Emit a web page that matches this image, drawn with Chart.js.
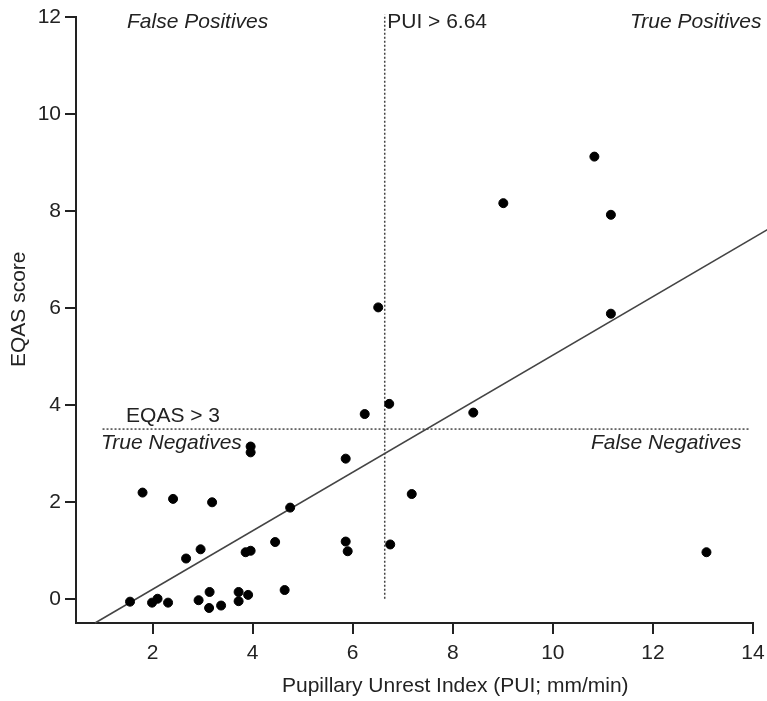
<!DOCTYPE html>
<html>
<head>
<meta charset="utf-8">
<script src="https://cdn.jsdelivr.net/npm/chart.js@4/dist/chart.umd.min.js"></script>
<style>
  html, body { margin: 0; padding: 0; background: #fff; }
  #wrap { width: 767px; height: 701px; }
</style>
</head>
<body>
<div id="wrap"><canvas id="chart"></canvas></div>
<script>
// data
var pui = [1.55, 1.8, 1.99, 2.1, 2.31, 2.41, 2.67, 2.92, 2.96, 3.14, 3.13, 3.19, 3.37,
           3.72, 3.72, 3.86, 3.96, 3.91, 3.96, 3.96, 4.45, 4.64, 4.75, 5.86, 5.86, 5.9,
           6.24, 6.51, 6.73, 6.75, 7.18, 8.41, 9.01, 10.83, 11.16, 11.16, 13.07];
var eqas = [-0.06, 2.19, -0.08, 0.0, -0.08, 2.06, 0.83, -0.03, 1.02, 0.14, -0.19, 1.99, -0.14,
            0.14, -0.05, 0.96, 0.99, 0.08, 3.14, 3.02, 1.17, 0.18, 1.88, 2.89, 1.18, 0.98,
            3.81, 6.01, 4.02, 1.12, 2.16, 3.84, 8.16, 9.12, 7.92, 5.88, 0.96];

var fitX = [0.85, 14.3];
var fitY = [-0.5, 7.62];
var puiCut = 6.64;
var eqasCut = 3.5;

var xTicks = [2, 4, 6, 8, 10, 12, 14];
var yTicks = [0, 2, 4, 6, 8, 10, 12];

var xTitle = 'Pupillary Unrest Index (PUI; mm/min)';
var yTitle = 'EQAS score';

var labelText = ['False Positives', 'PUI > 6.64', 'True Positives', 'EQAS > 3', 'True Negatives', 'False Negatives'];
var labelX = [1.49, 6.69, 14.17, 1.47, 0.97, 13.77];
var labelY = [11.77, 11.77, 11.77, 3.64, 3.09, 3.09];
var labelAlign = ['left', 'left', 'right', 'left', 'left', 'right'];
var labelItalic = [true, false, true, false, true, true];

var ink = '#222';
var font = '"Liberation Sans", Arial, sans-serif';

var points = pui.map(function (x, i) { return { x: x, y: eqas[i] }; });

var textLabels = {
    id: 'textLabels',
    afterDatasetsDraw: function (chart) {
        var ctx = chart.ctx;
        var xs = chart.scales.x, ys = chart.scales.y;
        var area = chart.chartArea;
        ctx.save();
        ctx.fillStyle = ink;
        ctx.textBaseline = 'alphabetic';
        labelText.forEach(function (t, i) {
            ctx.font = (labelItalic[i] ? 'italic ' : '') + '21px ' + font;
            ctx.textAlign = labelAlign[i];
            ctx.fillText(t, xs.getPixelForValue(labelX[i]), ys.getPixelForValue(labelY[i]));
        });
        // axis titles, placed like the original (a bit off-centre)
        ctx.font = '21px ' + font;
        ctx.textAlign = 'left';
        ctx.fillText(xTitle, area.left + 206, chart.height - 9);
        ctx.translate(25, area.bottom - 256);
        ctx.rotate(-Math.PI / 2);
        ctx.fillText(yTitle, 0, 0);
        ctx.restore();
    }
};

new Chart(document.getElementById('chart'), {
    type: 'scatter',
    data: {
        datasets: [
            {
                data: points,
                backgroundColor: '#000',
                borderColor: '#000',
                pointRadius: 4.5,
                pointHoverRadius: 4.5
            },
            {
                type: 'line',
                data: [{ x: fitX[0], y: fitY[0] }, { x: fitX[1], y: fitY[1] }],
                borderColor: '#444',
                borderWidth: 1.5,
                pointRadius: 0,
                clip: false
            },
            {
                type: 'line',
                data: [{ x: puiCut, y: 0 }, { x: puiCut, y: 12.05 }],
                borderColor: '#444',
                borderWidth: 1.5,
                borderDash: [2, 2],
                pointRadius: 0,
                clip: false
            },
            {
                type: 'line',
                data: [{ x: 1, y: eqasCut }, { x: 13.95, y: eqasCut }],
                borderColor: '#444',
                borderWidth: 1.5,
                borderDash: [2, 2],
                pointRadius: 0,
                clip: false
            }
        ]
    },
    options: {
        responsive: true,
        maintainAspectRatio: false,
        animation: false,
        layout: { padding: { top: 17, right: 0, left: 0, bottom: 0 } },
        plugins: {
            legend: { display: false },
            tooltip: { enabled: false }
        },
        scales: {
            x: {
                type: 'linear',
                min: 0.47,
                max: 14,
                afterBuildTicks: function (axis) {
                    axis.ticks = xTicks.map(function (v) { return { value: v }; });
                },
                afterFit: function (axis) {
                    axis.height = 78;
                    axis.paddingRight = 14;
                },
                grid: { drawOnChartArea: false, drawTicks: true, tickLength: 11, color: ink, lineWidth: 2 },
                border: { display: true, color: ink, width: 2 },
                ticks: { color: ink, font: { family: font, size: 21 }, padding: 7, maxRotation: 0 },
                title: { display: false }
            },
            y: {
                type: 'linear',
                min: -0.5,
                max: 12,
                afterBuildTicks: function (axis) {
                    axis.ticks = yTicks.map(function (v) { return { value: v }; });
                },
                afterFit: function (axis) { axis.width = 76; },
                grid: { drawOnChartArea: false, drawTicks: true, tickLength: 11, color: ink, lineWidth: 2 },
                border: { display: true, color: ink, width: 2 },
                ticks: { color: ink, font: { family: font, size: 21 }, padding: 4 },
                title: { display: false }
            }
        }
    },
    plugins: [textLabels]
});
</script>
</body>
</html>
